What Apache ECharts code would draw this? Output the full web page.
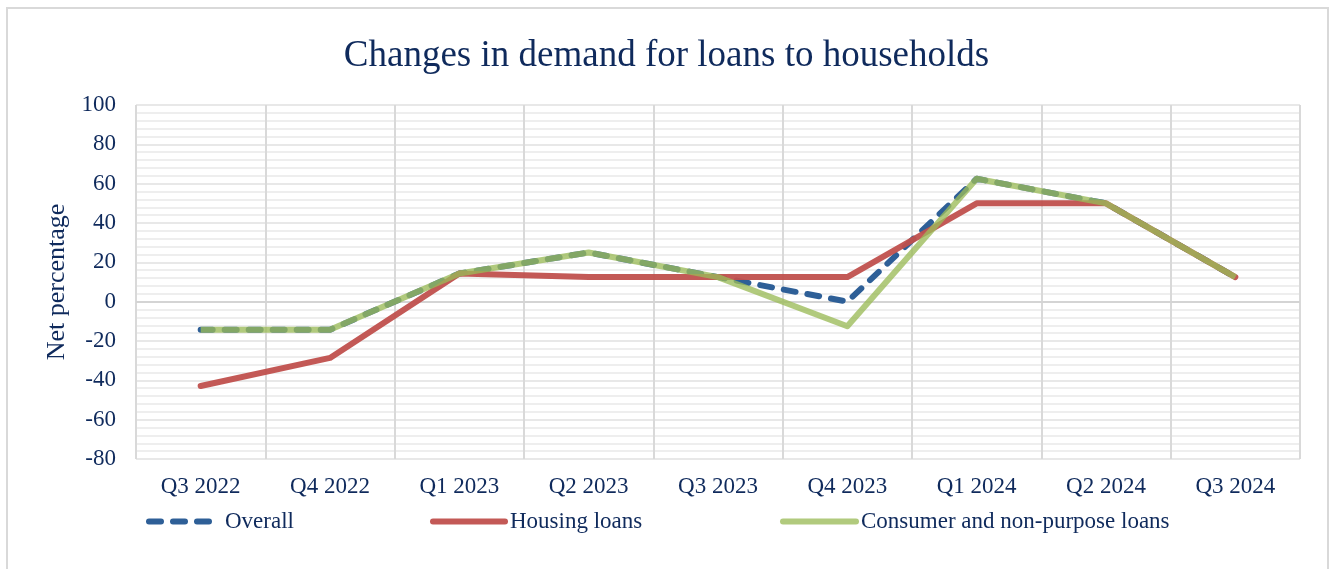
<!DOCTYPE html>
<html>
<head>
<meta charset="utf-8">
<script src="https://cdn.jsdelivr.net/npm/echarts@6/dist/echarts.min.js"></script>
<style>
html,body{margin:0;padding:0;background:#fff;}
#c{width:1333px;height:569px;}
</style>
</head>
<body>
<div id="c"></div>
<script>
const categories = ['Q3 2022','Q4 2022','Q1 2023','Q2 2023','Q3 2023','Q4 2023','Q1 2024','Q2 2024','Q3 2024'];
const overall = [-14.3, -14.3, 14.3, 25, 12.5, 0, 62.5, 50, 12.5];
const housing = [-42.9, -28.6, 14.3, 12.5, 12.5, 12.5, 50, 50, 12.5];
const consumer = [-14.3, -14.3, 14.3, 25, 12.5, -12.5, 62.5, 50, 12.5];
const yTicks = { min: -80, max: 100, step: 20 };

const navy = '#0f2a5c';
const font = '"Liberation Serif", "Times New Roman", serif';
const chart = echarts.init(document.getElementById('c'));

function legendAt(left, name, w, padLeft) {
  return {
    left: left, top: 505, orient: 'horizontal',
    data: [name], itemWidth: w, itemHeight: 14, itemGap: 0,
    selectedMode: false,
    itemStyle: { opacity: 0 },
    lineStyle: { width: 6, cap: 'round' },
    textStyle: { color: navy, fontFamily: font, fontSize: 23, padding: [0,0,0,padLeft] }
  };
}

chart.setOption({
  animation: false,
  backgroundColor: '#fff',
  graphic: [{
    type: 'rect', silent: true, z: -1,
    shape: { x: 7, y: 8, width: 1321, height: 600 },
    style: { fill: 'none', stroke: '#d9d9d9', lineWidth: 2 }
  }],
  title: {
    text: 'Changes in demand for loans to households',
    left: 'center', top: 33,
    textStyle: { color: navy, fontFamily: font, fontSize: 37, fontWeight: 'normal' }
  },
  legend: [
    legendAt(141, 'Overall', 64, 7),
    legendAt(425, 'Housing loans', 72, 0),
    legendAt(775, 'Consumer and non-purpose loans', 73, 0)
  ],
  grid: { left: 136, right: 33, top: 105, bottom: 110, containLabel: false },
  xAxis: {
    type: 'category', data: categories, boundaryGap: true,
    axisLine: { show: false },
    axisTick: { show: false },
    axisLabel: { color: navy, fontFamily: font, fontSize: 23, margin: 16 },
    splitLine: { show: true, lineStyle: { color: '#d9d9d9', width: 2 } }
  },
  yAxis: {
    type: 'value', min: yTicks.min, max: yTicks.max, interval: yTicks.step,
    name: 'Net percentage', nameLocation: 'middle', nameGap: 64, nameRotate: 90,
    nameTextStyle: { color: navy, fontFamily: font, fontSize: 26 },
    axisLine: { show: false }, axisTick: { show: false },
    axisLabel: { color: navy, fontFamily: font, fontSize: 23, margin: 20 },
    splitLine: { show: true, lineStyle: { color: '#e8e8e8', width: 2 } },
    minorTick: { show: false, splitNumber: 5 },
    minorSplitLine: { show: true, lineStyle: { color: '#eeeeee', width: 2 } }
  },
  series: [
    {
      name: 'Overall', type: 'line', data: overall, symbol: 'none', z: 3,
      itemStyle: { color: '#2e5f97' },
      lineStyle: { color: '#2e5f97', width: 6, type: [12, 12], cap: 'round', join: 'round' },
      markLine: {
        silent: true, symbol: 'none', label: { show: false },
        lineStyle: { color: '#d4d4d4', width: 2, type: 'solid' },
        data: [{ yAxis: 0 }], z: 1
      }
    },
    {
      name: 'Housing loans', type: 'line', data: housing, symbol: 'none', z: 4,
      itemStyle: { color: '#c0504d' },
      lineStyle: { color: '#c0504d', width: 6, opacity: 0.95, cap: 'round', join: 'round' }
    },
    {
      name: 'Consumer and non-purpose loans', type: 'line', data: consumer, symbol: 'none', z: 5,
      itemStyle: { color: '#9bbb59' },
      lineStyle: { color: '#9bbb59', width: 6, opacity: 0.78, cap: 'butt', join: 'round' }
    }
  ]
});
</script>
</body>
</html>
